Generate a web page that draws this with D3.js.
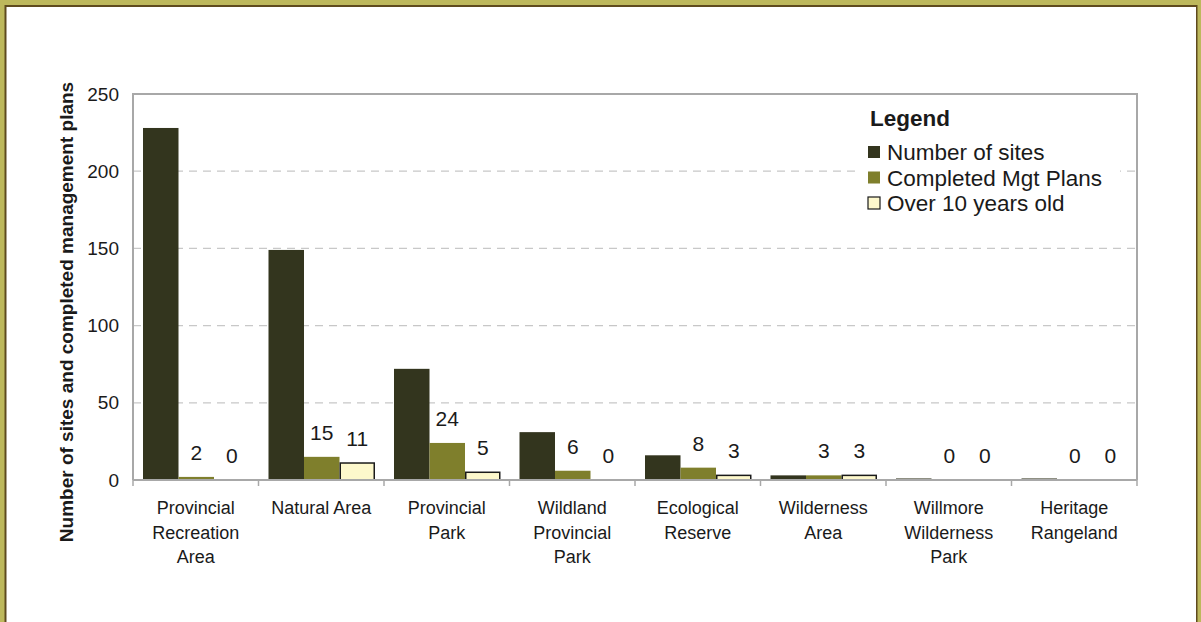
<!DOCTYPE html>
<html>
<head>
<meta charset="utf-8">
<script src="https://cdn.jsdelivr.net/npm/d3@7"></script>
<style>
  body { margin: 0; background: #fff; }
  svg { display: block; font-family: "Liberation Sans", Arial, sans-serif; }
</style>
</head>
<body>
<div id="chart"></div>
<script>
var categories = [
  ["Provincial", "Recreation", "Area"],
  ["Natural Area"],
  ["Provincial", "Park"],
  ["Wildland", "Provincial", "Park"],
  ["Ecological", "Reserve"],
  ["Wilderness", "Area"],
  ["Willmore", "Wilderness", "Park"],
  ["Heritage", "Rangeland"]
];
var seriesNames = ["Number of sites", "Completed Mgt Plans", "Over 10 years old"];
var numberOfSites = [228, 149, 72, 31, 16, 3, 1, 1];
var completedPlans = [2, 15, 24, 6, 8, 3, 0, 0];
var overTenYears = [0, 11, 5, 0, 3, 3, 0, 0];
var yTicks = [0, 50, 100, 150, 200, 250];

var cfg = {
  width: 1201,
  height: 622,
  margin: {top: 94, right: 64, bottom: 142, left: 133}
};
var colors = ["#33351e", "#7f7f2c", "#fdf8cc"];
var strokes = [null, null, "#1a1a1a"];

var svg = d3.select("#chart").append("svg")
  .attr("width", cfg.width)
  .attr("height", cfg.height);

// frame
svg.append("rect").attr("x", 0).attr("y", 0).attr("width", cfg.width).attr("height", cfg.height)
  .attr("fill", "#bdb85c");
svg.append("rect").attr("x", 4.5).attr("y", 5).attr("width", 1193).attr("height", 640)
  .attr("fill", "#5e4a1e");
svg.append("rect").attr("x", 6.5).attr("y", 7).attr("width", 1189.5).attr("height", 640)
  .attr("fill", "#ffffff");

var w = cfg.width - cfg.margin.left - cfg.margin.right,
    h = cfg.height - cfg.margin.top - cfg.margin.bottom;

var g = svg.append("g")
  .attr("transform", "translate(" + cfg.margin.left + "," + cfg.margin.top + ")");

var x0 = d3.scaleBand().domain(d3.range(categories.length)).range([0, w]).padding(0);
var x1 = d3.scaleBand().domain(d3.range(3)).range([10, x0.bandwidth() - 9]).padding(0);
var y = d3.scaleLinear().domain([0, 250]).range([h, 0]);

// grid
g.selectAll(".grid").data(yTicks.filter(function(d){ return d > 0 && d < 250; }))
  .enter().append("line")
  .attr("x1", 0).attr("x2", w)
  .attr("y1", function(d){ return y(d); }).attr("y2", function(d){ return y(d); })
  .attr("stroke", "#c8c8c8").attr("stroke-width", 1.2)
  .attr("stroke-dasharray", "8,6");

// plot border
g.append("path")
  .attr("d", "M0," + h + "V0H" + w + "V" + h)
  .attr("fill", "none").attr("stroke", "#a8a8a8").attr("stroke-width", 2);

// y axis
var yAxis = d3.axisLeft(y).tickValues(yTicks).tickSize(0).tickPadding(14);
var ya = g.append("g").call(yAxis);
ya.select(".domain").remove();
ya.selectAll("text").style("font-size", "19px").attr("fill", "#1a1a1a");

// bars
var data = categories.map(function(c, i) {
  return [numberOfSites[i], completedPlans[i], overTenYears[i]];
});
var groups = g.selectAll(".cat").data(data).enter().append("g")
  .attr("class", "cat")
  .attr("transform", function(d, i){ return "translate(" + x0(i) + ",0)"; });

groups.selectAll("rect").data(function(d){ return d; }).enter().append("rect")
  .attr("x", function(d, j){ return x1(j) + (strokes[j] ? 0.75 : 0); })
  .attr("width", function(d, j){ return x1.bandwidth() - (strokes[j] ? 1.5 : 0); })
  .attr("y", function(d){ return y(d); })
  .attr("height", function(d){ return Math.max(0, h - y(d)); })
  .attr("fill", function(d, j){ return colors[j]; })
  .attr("stroke", function(d, j){ return d > 0 ? strokes[j] : null; })
  .attr("stroke-width", 1.5);

// value labels for the two plan series
groups.selectAll(".val").data(function(d){ return d.slice(1); }).enter().append("text")
  .attr("class", "val")
  .attr("x", function(d, j){ return x1(j + 1) + x1.bandwidth() / 2; })
  .attr("y", function(d){ return y(d) - 17; })
  .attr("text-anchor", "middle")
  .style("font-size", "21px")
  .attr("fill", "#1a1a1a")
  .text(function(d){ return d; });

// x axis
g.append("line").attr("x1", 0).attr("x2", w).attr("y1", h).attr("y2", h)
  .attr("stroke", "#a8a8a8").attr("stroke-width", 2);
g.selectAll(".xtick").data(d3.range(categories.length + 1)).enter().append("line")
  .attr("x1", function(i){ return i * x0.bandwidth(); })
  .attr("x2", function(i){ return i * x0.bandwidth(); })
  .attr("y1", h).attr("y2", h + 6)
  .attr("stroke", "#a8a8a8").attr("stroke-width", 1.5);

var labels = g.selectAll(".xlab").data(categories).enter().append("text")
  .attr("text-anchor", "middle")
  .attr("transform", function(d, i){ return "translate(" + (x0(i) + x0.bandwidth() / 2) + "," + (h + 34) + ")"; })
  .style("font-size", "18px")
  .attr("fill", "#1a1a1a");
labels.selectAll("tspan").data(function(d){ return d; }).enter().append("tspan")
  .attr("x", 0)
  .attr("y", function(d, k){ return k * 24.5; })
  .text(function(d){ return d; });

// y title
svg.append("text")
  .attr("transform", "translate(73,312) rotate(-90)")
  .attr("text-anchor", "middle")
  .style("font-size", "19px")
  .style("font-weight", "bold")
  .attr("fill", "#1a1a1a")
  .text("Number of sites and completed management plans");

// legend
var lg = svg.append("g").attr("transform", "translate(858,100)");
lg.append("rect").attr("x", 0).attr("y", 0).attr("width", 262).attr("height", 125).attr("fill", "#fff");
lg.append("text").attr("x", 12).attr("y", 26)
  .style("font-size", "22.5px").style("font-weight", "bold").attr("fill", "#1a1a1a")
  .text("Legend");
var items = lg.selectAll(".item").data(seriesNames).enter().append("g")
  .attr("transform", function(d, i){ return "translate(10," + (60 + i * 25.5) + ")"; });
items.append("rect")
  .attr("x", 0).attr("y", -14).attr("width", 12).attr("height", 12)
  .attr("fill", function(d, i){ return colors[i]; })
  .attr("stroke", function(d, i){ return strokes[i]; })
  .attr("stroke-width", 1.2);
items.append("text").attr("x", 19).attr("y", 0)
  .style("font-size", "22.5px").attr("fill", "#1a1a1a")
  .text(function(d){ return d; });
</script>
</body>
</html>
